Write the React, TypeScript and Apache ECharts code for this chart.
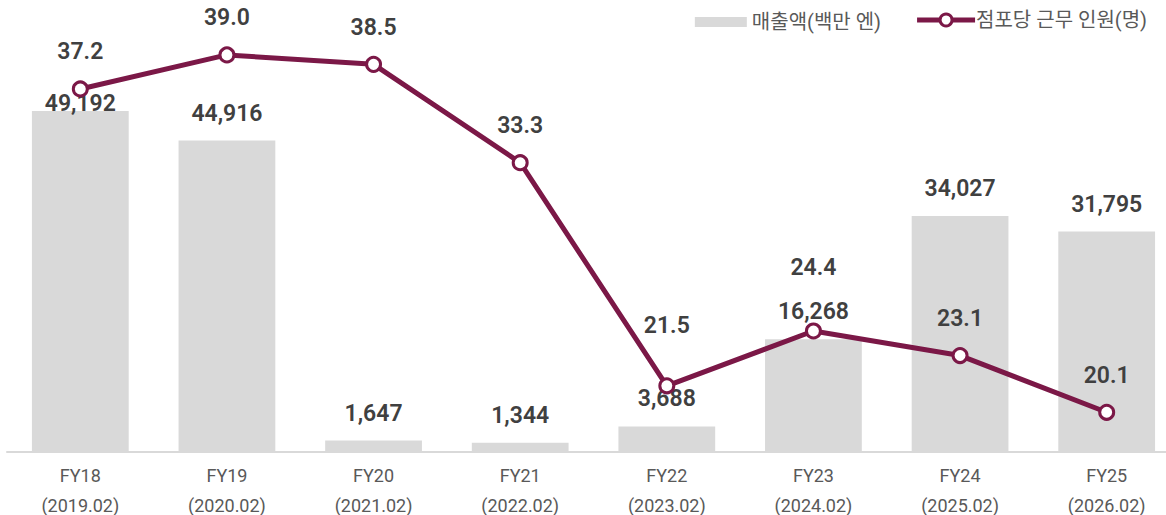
import React, { useEffect, useRef } from "react";
import * as echarts from "echarts";

const fyLabels = ["FY18", "FY19", "FY20", "FY21", "FY22", "FY23", "FY24", "FY25"];
const periodLabels = ["(2019.02)", "(2020.02)", "(2021.02)", "(2022.02)", "(2023.02)", "(2024.02)", "(2025.02)", "(2026.02)"];
const salesValues = [49192, 44916, 1647, 1344, 3688, 16268, 34027, 31795];
const staffValues = [37.2, 39.0, 38.5, 33.3, 21.5, 24.4, 23.1, 20.1];
const salesName = "매출액(백만 엔)";
const staffName = "점포당 근무 인원(명)";

const BAR_COLOR = "#d9d9d9";
const LINE_COLOR = "#7b1847";
const LABEL_COLOR = "#404040";
const FONT = "Roboto, 'Noto Sans CJK KR', sans-serif";

export default function App() {
  const ref = useRef<HTMLDivElement>(null);
  useEffect(() => {
    if (!ref.current) return;
    const chart = echarts.init(ref.current, null, { renderer: "svg" });
    const categories = fyLabels.map((f, i) => f + "\n" + periodLabels[i]);
    const barData = salesValues.map((v, i) =>
      i === 0 ? { value: v, label: { distance: -4 } } : { value: v }
    );
    const lineOffsets: Record<number, number> = { 4: -23, 5: -26 };
    const lineData = staffValues.map((v, i) =>
      lineOffsets[i] !== undefined ? { value: v, label: { offset: [0, lineOffsets[i]] } } : { value: v }
    );
    chart.setOption({
      animation: false,
      textStyle: { fontFamily: FONT },
      legend: [
        {
          data: [{ name: salesName, icon: "rect" }],
          right: 280,
          top: 7,
          itemWidth: 52,
          itemHeight: 10,
          itemGap: 4,
          textStyle: { fontSize: 20, color: "#595959", fontFamily: FONT, padding: [0, 0, 0, 0] },
        },
        {
          data: [{ name: staffName }],
          right: 14,
          top: 5,
          itemWidth: 58,
          itemHeight: 15,
          lineStyle: { width: 5, color: LINE_COLOR },
          itemStyle: { color: "#ffffff", borderColor: LINE_COLOR, borderWidth: 3 },
          textStyle: { fontSize: 20, color: "#595959", fontFamily: FONT, padding: [0, 0, 0, -4] },
        },
      ],
      grid: { left: 7, right: -14, top: 36, bottom: 63, outerBoundsMode: "none" },
      xAxis: {
        type: "category",
        data: categories,
        axisTick: { show: false },
        axisLine: { lineStyle: { color: "#d9d9d9", width: 2 } },
        axisLabel: {
          color: "#595959",
          fontSize: 18,
          lineHeight: 30,
          margin: 8,
          fontFamily: FONT,
          interval: 0,
        },
      },
      yAxis: [
        { type: "value", min: 0, max: 60000, show: false, splitLine: { show: false } },
        { type: "value", min: 18, max: 40, show: false, splitLine: { show: false } },
      ],
      series: [
        {
          name: salesName,
          type: "bar",
          yAxisIndex: 0,
          data: barData,
          barCategoryGap: "34%",
          itemStyle: { color: BAR_COLOR },
          label: {
            show: true,
            position: "top",
            distance: 16,
            color: LABEL_COLOR,
            fontSize: 23,
            fontWeight: 600,
            fontFamily: FONT,
            formatter: (p: any) => Number(p.value).toLocaleString("en-US"),
          },
          z: 1,
        },
        {
          name: staffName,
          type: "line",
          yAxisIndex: 1,
          data: lineData,
          symbol: "circle",
          symbolSize: 14,
          lineStyle: { color: LINE_COLOR, width: 5 },
          itemStyle: { color: "#ffffff", borderColor: LINE_COLOR, borderWidth: 3 },
          label: {
            show: true,
            position: "top",
            distance: 17,
            color: LABEL_COLOR,
            fontSize: 23,
            fontWeight: 600,
            fontFamily: FONT,
            formatter: (p: any) => Number(p.value).toFixed(1),
          },
          z: 3,
        },
      ],
    });
    return () => chart.dispose();
  }, []);
  return (
    <div
      ref={ref}
      style={{ position: "fixed", left: 0, top: 0, width: 1166, height: 515, background: "#ffffff" }}
    />
  );
}
